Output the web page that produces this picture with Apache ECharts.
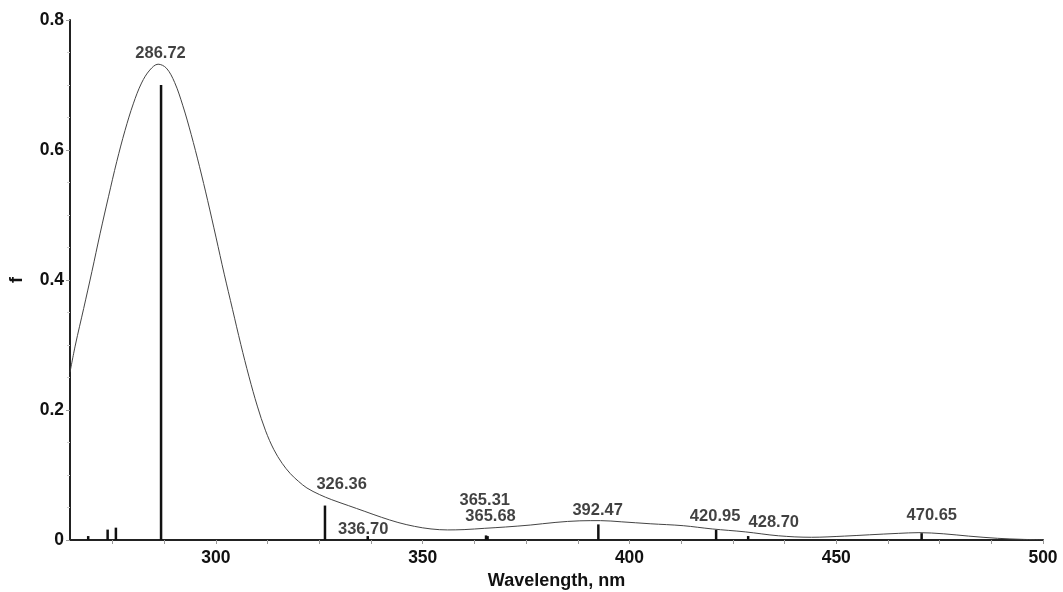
<!DOCTYPE html>
<html>
<head>
<meta charset="utf-8">
<script src="https://cdn.jsdelivr.net/npm/echarts@6/dist/echarts.min.js"></script>
<style>
html,body{margin:0;padding:0;background:#fff;}
#chart{width:1063px;height:592px;}
</style>
</head>
<body>
<div id="chart"></div>
<script>
// ---- data ----
var curveWavelength = [264.7,266,268,270,272,274,276,278,280,282,284,286,288,290,292,294,296,298,300,302,304,306,308,310,312,314,316,318,320,322,325,328,332,336,340,344,348,352,356,360,365,370,376,382,388,393,398,405,413,420,428,436,444,452,458,465,470,476,482,489,495,500];
var curveF = [0.258,0.300,0.356,0.413,0.472,0.528,0.582,0.630,0.671,0.703,0.723,0.732,0.726,0.704,0.668,0.624,0.575,0.522,0.466,0.409,0.355,0.301,0.251,0.206,0.168,0.139,0.118,0.102,0.090,0.080,0.070,0.062,0.053,0.044,0.035,0.027,0.021,0.017,0.0155,0.016,0.018,0.020,0.023,0.027,0.0295,0.0298,0.028,0.025,0.022,0.017,0.0125,0.0065,0.0042,0.006,0.008,0.0102,0.0113,0.0095,0.006,0.0026,0.001,0.0003];

var stickWavelength = [269.1,273.8,275.8,286.72,326.36,336.70,365.31,365.68,392.47,420.95,428.70,470.65];
var stickF = [0.003,0.016,0.019,0.700,0.053,0.003,0.004,0.006,0.024,0.0155,0.003,0.0105];

var peakLabels = ["286.72","326.36","336.70","365.31","365.68","392.47","420.95","428.70","470.65"];
var peakLabelWavelength = [286.6,330.4,335.6,365.0,366.4,392.3,420.7,434.9,473.1];
var peakLabelF = [0.749,0.086,0.0165,0.0615,0.0358,0.045,0.0358,0.0266,0.0373];

var xLabelValues = [300,350,400,450,500];
var xTickValues = [275,287.5,300,312.5,325,337.5,350,362.5,375,387.5,400,412.5,425,437.5,450,462.5,475,487.5,500];

// ---- build ----
var curveData = curveWavelength.map(function(w,i){return [w,curveF[i]];});
var stickData = stickWavelength.map(function(w,i){return [w,stickF[i]];});
var labelData = peakLabels.map(function(t,i){return [peakLabelWavelength[i],peakLabelF[i],t];});

var FONT = 'Liberation Sans, Arial, sans-serif';
var chart = echarts.init(document.getElementById('chart'), null, {renderer:'canvas'});
chart.setOption({
  animation:false,
  backgroundColor:'#ffffff',
  grid:{left:70,right:20,top:20,bottom:52,containLabel:false,outerBoundsMode:'none'},
  xAxis:{
    type:'value',min:264.7,max:500,
    name:'Wavelength, nm',nameLocation:'middle',nameGap:29,
    nameTextStyle:{fontFamily:FONT,fontWeight:'bold',fontSize:18,color:'#111'},
    axisLine:{show:true,onZero:false,lineStyle:{color:'#222',width:2}},
    axisTick:{show:true,customValues:xTickValues,length:4,inside:false,lineStyle:{color:'#999',width:1}},
    axisLabel:{customValues:xLabelValues,fontFamily:FONT,fontWeight:'bold',fontSize:17.5,color:'#111',margin:9},
    splitLine:{show:false}
  },
  yAxis:{
    type:'value',min:0,max:0.8,interval:0.2,
    name:'f',nameLocation:'middle',nameGap:44,
    nameTextStyle:{fontFamily:FONT,fontWeight:'bold',fontSize:18,color:'#111'},
    axisLine:{show:true,lineStyle:{color:'#222',width:2}},
    axisTick:{show:true,length:4,lineStyle:{color:'#999',width:1}},
    minorTick:{show:true,splitNumber:4,length:3,lineStyle:{color:'#ccc',width:1}},
    axisLabel:{fontFamily:FONT,fontWeight:'bold',fontSize:17.5,color:'#111',margin:6},
    splitLine:{show:false}
  },
  series:[
    {
      type:'line',data:curveData,smooth:0.35,showSymbol:false,
      lineStyle:{color:'#444',width:1},z:2
    },
    {
      type:'custom',data:stickData,z:3,
      renderItem:function(params,api){
        var p0=api.coord([api.value(0),0]);
        var p1=api.coord([api.value(0),api.value(1)]);
        return {type:'line',shape:{x1:p0[0],y1:p0[1],x2:p1[0],y2:p1[1]-(p0[1]-p1[1]<3?2:0)},
          style:{stroke:'#111',lineWidth:2.5}};
      }
    },
    {
      type:'scatter',data:labelData,symbolSize:0,z:4,silent:true,
      label:{show:true,position:'inside',formatter:function(p){return p.data[2];},
        fontFamily:FONT,fontWeight:'bold',fontSize:16.5,color:'#111'}
    }
  ]
});
</script>
</body>
</html>
